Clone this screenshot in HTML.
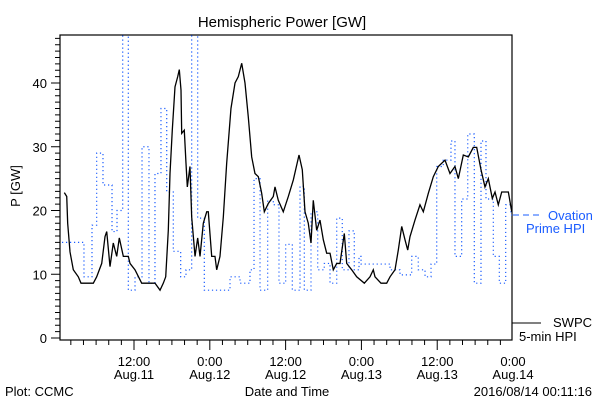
<!DOCTYPE html>
<html><head><meta charset="utf-8"><style>
body{margin:0;background:#fff;}
svg{display:block;font-family:"Liberation Sans",sans-serif;}
</style></head><body>
<svg id="chart" width="600" height="400" viewBox="0 0 600 400">
<rect x="0" y="0" width="600" height="400" fill="#fff"/>
<text x="282" y="27" font-size="15" text-anchor="middle" fill="#000">Hemispheric Power [GW]</text>
<text x="0" y="0" font-size="13" text-anchor="middle" transform="translate(20,186) rotate(-90)">P [GW]</text>
<text x="287" y="396" font-size="13" text-anchor="middle">Date and Time</text>
<text x="5" y="396" font-size="13">Plot: CCMC</text>
<text x="592" y="396" font-size="13" text-anchor="end">2016/08/14 00:11:16</text>
<g id="axes"></g>
<g id="series"></g>
<g>
<line x1="513" y1="215" x2="541" y2="215" stroke="#1a5cff" stroke-width="1" stroke-dasharray="6,4"/>
<text x="548" y="220" font-size="13" fill="#1a5cff">Ovation</text>
<text x="526" y="233" font-size="13" fill="#1a5cff">Prime HPI</text>
</g>
<g>
<line x1="512" y1="323" x2="541" y2="323" stroke="#000" stroke-width="1"/>
<text x="553" y="327" font-size="13">SWPC</text>
<text x="519" y="341" font-size="13">5-min HPI</text>
</g>
</svg>
<script>
// hours since Aug 11 00:00
const swpcTimes=[0.97,1.35,1.5,1.87,2.39,3.18,3.61,4.51,5.56,6.09,6.89,7.41,7.68,8.2,8.72,9.26,9.67,10.31,11.1,11.37,12.16,13.22,15.32,16.12,16.64,17.02,17.43,17.7,18.06,18.49,18.92,19.17,19.44,19.55,19.96,20.23,20.44,20.86,21.13,21.66,22.08,22.45,22.97,23.51,23.76,24.3,24.82,25.09,25.61,26.14,26.67,27.35,27.99,28.51,29.05,29.57,30.09,30.63,31.15,31.68,32.21,32.63,33.26,34.05,34.32,34.84,35.63,36.43,37.22,38.12,38.64,39.07,39.59,40.02,40.38,40.92,41.44,41.97,42.5,43.03,43.55,44.09,44.61,45.29,45.67,46.46,47.25,48.46,49.36,49.88,50.15,51.1,52.0,52.53,53.32,53.84,54.38,54.9,55.33,55.69,56.48,57.27,57.8,58.59,59.38,60.17,61.23,62.02,62.81,63.34,64.13,64.92,65.71,66.25,66.93,67.56,68.09,68.72,69.15,69.67,70.21,71.26,71.8];
const swpcValues=[22.8,22.2,18,13.5,10.7,9.6,8.6,8.6,8.6,9.6,11.7,15.9,16.7,11.2,14.9,12.8,15.7,12.8,12.8,11.7,10.7,8.6,8.6,7.5,8.6,9.6,16.9,25.8,32.6,39.4,41,42.1,38.9,32.1,32.6,27.4,23.7,26.9,19,12.8,15.7,12.8,18,19.8,19.8,12.8,12.8,10.7,12.8,19,27.4,36,40,41,43.1,40,34.7,28.4,25.8,25.3,22.7,19.8,21.1,22.2,23.7,21.6,19.8,22.2,24.8,28.7,26.4,19.8,18,14.9,21.6,16.9,18.5,15.4,13.3,13.3,10.7,11.7,11.7,16.4,11.7,10.7,9.6,8.6,9.6,10.7,9.6,8.6,8.6,9.6,10.7,13.8,17.5,15.4,13.8,15.9,18.5,20.9,19.8,22.7,25.3,26.9,27.9,25.8,26.9,25,28.7,28.4,29.9,29.9,26.4,23.7,25,21.9,22.9,20.9,22.9,22.9,19.8];
const ovationTimes=[0.6,4.08,5.35,6.09,7.09,8.52,9.31,10.21,11.1,12.16,13.27,14.37,15.32,16.27,17.18,18.22,19.39,20.23,21.13,22.08,23.13,27.2,28.78,30.36,31.0,31.95,33.16,34.05,34.95,36.01,37.06,38.28,38.96,40.02,41.08,42.12,43.03,44.09,44.97,46.03,46.87,47.62,47.94,52.53,54.11,55.96,57.0,58.07,59.02,59.92,60.96,62.18,62.81,63.87,64.83,65.87,66.93,67.72,68.88,69.83,70.84,71.68];
const ovationValues=[15,9.6,17.7,29,24,16.7,20,60,7.5,9.6,30,8.6,25.8,36,22.9,13.6,9.6,10.7,60,18.8,7.5,9.6,8.6,10.7,25,7.5,21.6,20.9,8.6,14.7,7.5,23.8,7.5,19.8,10.7,11.7,8.6,18.8,10.7,16.8,10.7,12.8,11.6,10.7,9.9,12.8,10.7,9.6,11.6,26.9,27.9,30.9,12.8,21.8,32,8.6,30.9,21.8,12.8,8.6,20.9,19.3];
const yTicks=[0,10,20,30,40];
const xTickHours=[12,24,36,48,60,72];
const xTickTime=["12:00","0:00","12:00","0:00","12:00","0:00"];
const xTickDate=["Aug.11","Aug.12","Aug.12","Aug.13","Aug.13","Aug.14"];
const tEnd=72;

const L=60,R=512,T=35,B=340;
const xs=h=>58.2+h*6.317;
const ys=v=>338-v*6.375;
const NS="http://www.w3.org/2000/svg";
function mk(tag,attrs,parent){const e=document.createElementNS(NS,tag);for(const k in attrs)e.setAttribute(k,attrs[k]);parent.appendChild(e);return e;}
const ax=document.getElementById('axes'), sr=document.getElementById('series');

const clip=mk('clipPath',{id:'pc'},document.getElementById('chart'));
mk('rect',{x:L,y:T,width:R-L,height:B-T},clip);

const frame=mk('rect',{x:L,y:T,width:R-L,height:B-T,fill:'none',stroke:'#000','stroke-width':1.2},ax);


// y minor ticks
for(let v=0;v<=47;v++){
  const y=ys(v);
  const t=mk('line',{x1:L-(v%10===0?9:5),x2:L,y1:y,y2:y,stroke:'#000','stroke-width':1},ax);
  
  
}
yTicks.forEach(v=>{
  const t=mk('text',{x:L-13,y:ys(v)+5,'font-size':13,'text-anchor':'end'},ax);
  t.textContent=v;
  
  
});
for(let h=2;h<=72;h+=2){
  const x=xs(h);if(x<L||x>R+1)continue;
  const major=h%12===0;
  const t=mk('line',{x1:x,x2:x,y1:B,y2:B+(major?10:5),stroke:'#000','stroke-width':1},ax);
  
  
}
xTickHours.forEach((h,i)=>{
  const a=mk('text',{x:xs(h),y:366,'font-size':13,'text-anchor':'middle'},ax);
  a.textContent=xTickTime[i];
  
  
  const b=mk('text',{x:xs(h),y:379,'font-size':13,'text-anchor':'middle'},ax);
  b.textContent=xTickDate[i];
  
  
});
// ovation step series
let d='';
ovationTimes.forEach((t,i)=>{
  const x=xs(t),y=ys(ovationValues[i]);
  if(i===0)d+='M'+x+','+y;else d+='V'+y;
  const nx=xs(i<ovationTimes.length-1?ovationTimes[i+1]:tEnd);
  d+='H'+nx;
});
const op=mk('path',{d:d,fill:'none',stroke:'#1a5cff','stroke-width':1.2,'stroke-dasharray':'1.2,2.8','clip-path':'url(#pc)'},sr);


// swpc line
const pts=swpcTimes.map((t,i)=>xs(t)+','+ys(swpcValues[i])).join(' ');
const sp=mk('polyline',{points:pts,fill:'none',stroke:'#000','stroke-width':1.3,'clip-path':'url(#pc)'},sr);


</script>
</body></html>
